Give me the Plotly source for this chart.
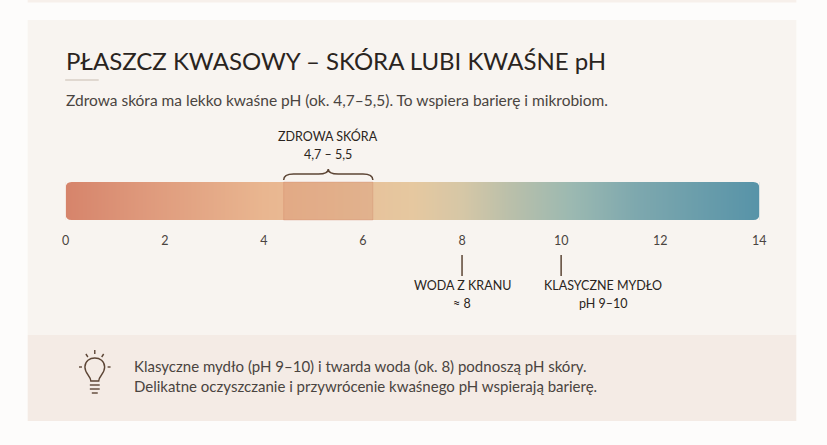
import plotly.graph_objects as go

W, H = 827, 445

# pH scale and gradient colour stops
ph_ticks = [0, 2, 4, 6, 8, 10, 12, 14]
gradient_ph = [0, 1.5, 4, 7, 8, 9, 10.2, 11.5, 14]
gradient_colors = ["#d6846b", "#de987b", "#e9b690", "#e6c8a0", "#d6c7a6",
                   "#b9bfaa", "#9cb9b1", "#7ea8ae", "#5793a8"]

# healthy skin band (as drawn) and its label
healthy_band = [4.4, 6.2]
healthy_label = ["ZDROWA SKÓRA", "4,7 – 5,5"]

# point markers under the scale
marker_ph = [8, 10]
marker_labels = [["WODA Z KRANU", "≈ 8"], ["KLASYCZNE MYDŁO", "pH 9–10"]]
marker_label_x = [8, 10.85]

title = "PŁASZCZ KWASOWY – SKÓRA LUBI KWAŚNE pH"
subtitle = "Zdrowa skóra ma lekko kwaśne pH (ok. 4,7–5,5). To wspiera barierę i mikrobiom."
tip_lines = [
    "Klasyczne mydło (pH 9–10) i twarda woda (ok. 8) podnoszą pH skóry.",
    "Delikatne oczyszczanie i przywrócenie kwaśnego pH wspierają barierę.",
]

CARD = "#f8f4f0"
TIP_BG = "#f4ebe5"
DARK = "#2a2420"
TEXT = "#4a4440"
BROWN = "#5c4535"
FONT = "Lato"


def px(x):
    return x / W


def py(y):
    return 1 - y / H


def ppath(points, close=False):
    s = "M " + " L ".join(f"{px(x)},{py(y)}" for x, y in points)
    return s + (" Z" if close else "")


BAR_L, BAR_R, BAR_T, BAR_B = 62.5, 765.5, 182, 220

fig = go.Figure()

fig.add_trace(
    go.Heatmap(
        z=[gradient_ph],
        x=gradient_ph,
        y=[BAR_T, BAR_B],
        zmin=0,
        zmax=14,
        zsmooth="best",
        colorscale=[[p / 14, c] for p, c in zip(gradient_ph, gradient_colors)],
        showscale=False,
        hoverinfo="skip",
    )
)

shapes = []
# backgrounds
shapes.append(dict(type="rect", xref="paper", yref="paper", x0=px(24), x1=px(803),
                   y0=py(0), y1=py(2.5), fillcolor="#f7f0eb", line_width=0, layer="below"))
shapes.append(dict(type="rect", xref="paper", yref="paper", x0=px(24), x1=px(803),
                   y0=py(20), y1=py(335), fillcolor=CARD, line_width=0, layer="below"))
shapes.append(dict(type="rect", xref="paper", yref="paper", x0=px(24), x1=px(803),
                   y0=py(335), y1=py(421), fillcolor=TIP_BG, line_width=0, layer="below"))
# divider under title
shapes.append(dict(type="line", xref="paper", yref="paper", x0=px(62), x1=px(96),
                   y0=py(80), y1=py(80), line=dict(color="#d9cfc6", width=1.5)))

# rounded-corner masks for the bar
r = 6
for cx, cy, dx, dy in [(BAR_L, BAR_T, 1, 1), (BAR_R, BAR_T, -1, 1),
                       (BAR_L, BAR_B, 1, -1), (BAR_R, BAR_B, -1, -1)]:
    path = (f"M {px(cx)},{py(cy)} L {px(cx + dx * r)},{py(cy)} "
            f"Q {px(cx)},{py(cy)} {px(cx)},{py(cy + dy * r)} Z")
    shapes.append(dict(type="path", xref="paper", yref="paper", path=path,
                       fillcolor=CARD, line_width=0))

# healthy band overlay
shapes.append(dict(type="rect", xref="x", yref="y", x0=healthy_band[0], x1=healthy_band[1],
                   y0=BAR_T, y1=BAR_B, fillcolor="rgba(205,120,90,0.22)",
                   line=dict(color="rgba(205,130,100,0.3)", width=1)))

# brace above the band
a, b = healthy_band
m = (a + b) / 2
brace = (f"M {a},180 Q {a},174 {a + 0.2},174 L {m - 0.2},174 Q {m},174 {m},169 "
         f"Q {m},174 {m + 0.2},174 L {b - 0.2},174 Q {b},174 {b},180")
shapes.append(dict(type="path", xref="x", yref="y", path=brace,
                   line=dict(color=BROWN, width=1.5)))

# marker ticks
for v in marker_ph:
    shapes.append(dict(type="line", xref="x", yref="y", x0=v, x1=v, y0=255, y1=276,
                       line=dict(color=BROWN, width=1.5)))

# light bulb icon
bx = 92
bulb = (f"M {px(bx - 4)},{py(381)} "
        f"C {px(bx - 4)},{py(376)} {px(bx - 10)},{py(374)} {px(bx - 10)},{py(367)} "
        f"C {px(bx - 10)},{py(361)} {px(bx - 5)},{py(358)} {px(bx)},{py(358)} "
        f"C {px(bx + 5)},{py(358)} {px(bx + 10)},{py(361)} {px(bx + 10)},{py(367)} "
        f"C {px(bx + 10)},{py(374)} {px(bx + 4)},{py(376)} {px(bx + 4)},{py(381)} Z")
shapes.append(dict(type="path", xref="paper", yref="paper", path=bulb,
                   line=dict(color=BROWN, width=1.4)))
for seg in [[(bx - 5, 385), (bx + 5, 385)], [(bx - 5, 389), (bx + 5, 389)],
            [(bx - 3, 393), (bx + 3, 393)],
            [(bx, 350), (bx, 354)], [(bx - 9, 354), (bx - 7, 357)],
            [(bx + 9, 354), (bx + 7, 357)], [(bx - 16, 367), (bx - 13, 367)],
            [(bx + 13, 367), (bx + 16, 367)]]:
    shapes.append(dict(type="path", xref="paper", yref="paper", path=ppath(seg),
                       line=dict(color=BROWN, width=1.4)))

annotations = [
    dict(text=title, x=px(61), y=py(60), xanchor="left",
         font=dict(size=24, color=DARK, family=FONT)),
    dict(text=subtitle, x=px(61), y=py(100), xanchor="left",
         font=dict(size=15.5, color=TEXT, family=FONT)),
    dict(text=tip_lines[0], x=px(130), y=py(366), xanchor="left",
         font=dict(size=15, color=TEXT, family=FONT)),
    dict(text=tip_lines[1], x=px(130), y=py(386), xanchor="left",
         font=dict(size=15, color=TEXT, family=FONT)),
]
annotations.append(dict(text=healthy_label[0], xref="x", x=m, y=py(136),
                        font=dict(size=12.5, color=DARK, family=FONT)))
annotations.append(dict(text=healthy_label[1], xref="x", x=m, y=py(155),
                        font=dict(size=12.5, color=DARK, family=FONT)))
for lx, (l1, l2) in zip(marker_label_x, marker_labels):
    annotations.append(dict(text=l1, xref="x", x=lx, y=py(285),
                            font=dict(size=12.5, color=DARK, family=FONT)))
    annotations.append(dict(text=l2, xref="x", x=lx, y=py(303),
                            font=dict(size=12.5, color=DARK, family=FONT)))
for an in annotations:
    an.setdefault("xref", "paper")
    an.setdefault("xanchor", "center")
    an["yref"] = "paper"
    an["yanchor"] = "middle"
    an["showarrow"] = False

fig.update_layout(
    width=W,
    height=H,
    margin=dict(l=0, r=0, t=0, b=0),
    paper_bgcolor="#fdfcfb",
    plot_bgcolor="rgba(0,0,0,0)",
    showlegend=False,
    shapes=shapes,
    annotations=annotations,
    xaxis=dict(
        domain=[px(BAR_L), px(BAR_R)],
        range=[0, 14],
        tickvals=ph_ticks,
        ticktext=[str(t) for t in ph_ticks],
        tickfont=dict(size=12.5, color=TEXT, family=FONT),
        showgrid=False,
        zeroline=False,
        showline=False,
        ticks="",
        anchor="free",
        position=py(231),
        fixedrange=True,
    ),
    yaxis=dict(
        domain=[0, 1],
        range=[H, 0],
        visible=False,
        fixedrange=True,
    ),
)

fig.write_html(
    "out.html",
    config={"displayModeBar": False},
    post_script="document.body.style.margin='0';document.body.style.overflow='hidden';",
)
